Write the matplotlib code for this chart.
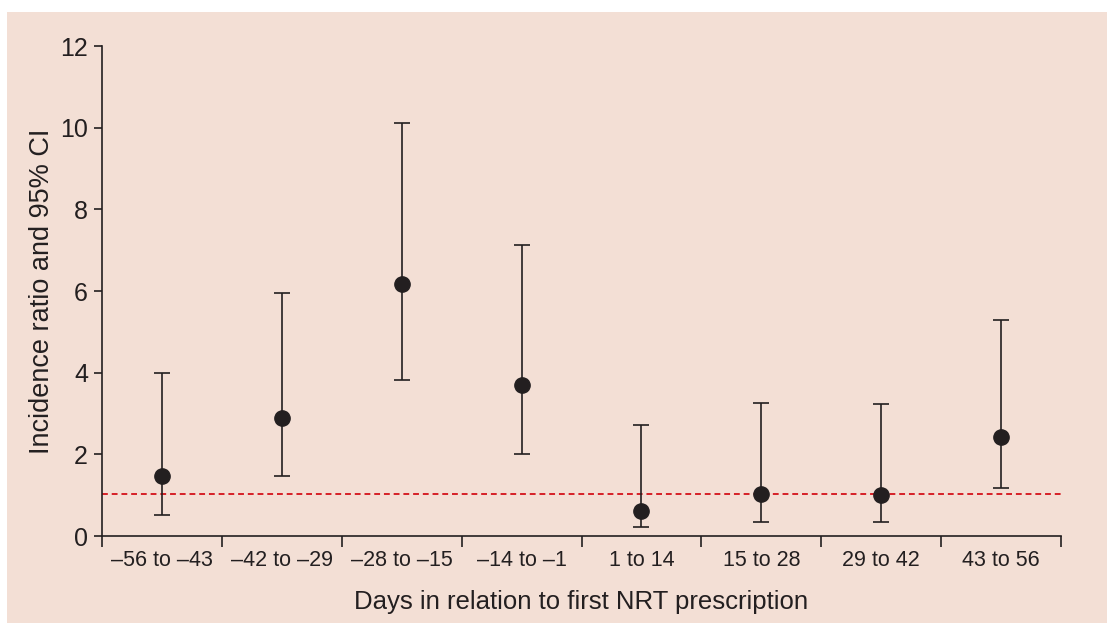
import numpy as np
import matplotlib
matplotlib.use("Agg")
import matplotlib.pyplot as plt
from matplotlib.patches import Rectangle

plt.rcParams["font.family"] = ["Liberation Sans", "DejaVu Sans"]

# ── Data ─────────────────────────────────────────────────────────────────────
periods = ["\u201356 to \u201343", "\u201342 to \u201329", "\u201328 to \u201315",
           "\u201314 to \u20131", "1 to 14", "15 to 28", "29 to 42", "43 to 56"]
ratio = [1.48, 2.9, 6.18, 3.7, 0.61, 1.02, 1.0, 2.42]
ci_low = [0.52, 1.48, 3.82, 2.0, 0.22, 0.34, 0.34, 1.18]
ci_high = [3.98, 5.95, 10.12, 7.12, 2.72, 3.25, 3.24, 5.28]
ref_line = 1.03

BG = "#f3dfd5"
INK = "#231f20"

fig = plt.figure(figsize=(11.07, 6.23), dpi=100)
fig.patch.set_facecolor("white")
bg = Rectangle((7 / 1107, 0), 1 - 7 / 1107, 1 - 12 / 623,
               transform=fig.transFigure, facecolor=BG, edgecolor="none")
bg.set_zorder(-10)
fig.add_artist(bg)

ax = fig.add_axes([102 / 1107, 1 - 536 / 623, (1061 - 102) / 1107, (536 - 46) / 623])
ax.set_facecolor("none")
ax.set_zorder(5)

x = np.arange(len(periods)) + 0.5
r = np.array(ratio)
yerr = [r - np.array(ci_low), np.array(ci_high) - r]

ax.axhline(ref_line, color="#d62027", lw=1.4, ls=(0, (3, 2)), zorder=1)
ax.errorbar(x, r, yerr=yerr, fmt="o", color=INK, ecolor=INK, elinewidth=1.2,
            capsize=6, capthick=1.2, markersize=11, zorder=3)

ax.set_xlim(0, len(periods))
ax.set_ylim(0, 12)
ax.set_yticks(range(0, 13, 2))
ax.set_xticks(x)
ax.set_xticklabels(periods)
ax.set_xticks(np.arange(len(periods) + 1), minor=True)

for s in ["top", "right"]:
    ax.spines[s].set_visible(False)
for s in ["left", "bottom"]:
    ax.spines[s].set_linewidth(1.2)
    ax.spines[s].set_color(INK)

ax.tick_params(axis="y", length=6, width=1.2, color=INK, labelsize=18,
               labelcolor=INK, pad=4)
ax.tick_params(axis="x", which="major", length=0, labelsize=15.5,
               labelcolor=INK, pad=10)
ax.tick_params(axis="x", which="minor", length=8, width=1.2, color=INK)

ax.set_ylabel("Incidence ratio and 95% CI", fontsize=19.5, color=INK, labelpad=4)
ax.set_xlabel("Days in relation to first NRT prescription", fontsize=18.5,
              color=INK, labelpad=14)

fig.savefig("out.png", dpi=100)
